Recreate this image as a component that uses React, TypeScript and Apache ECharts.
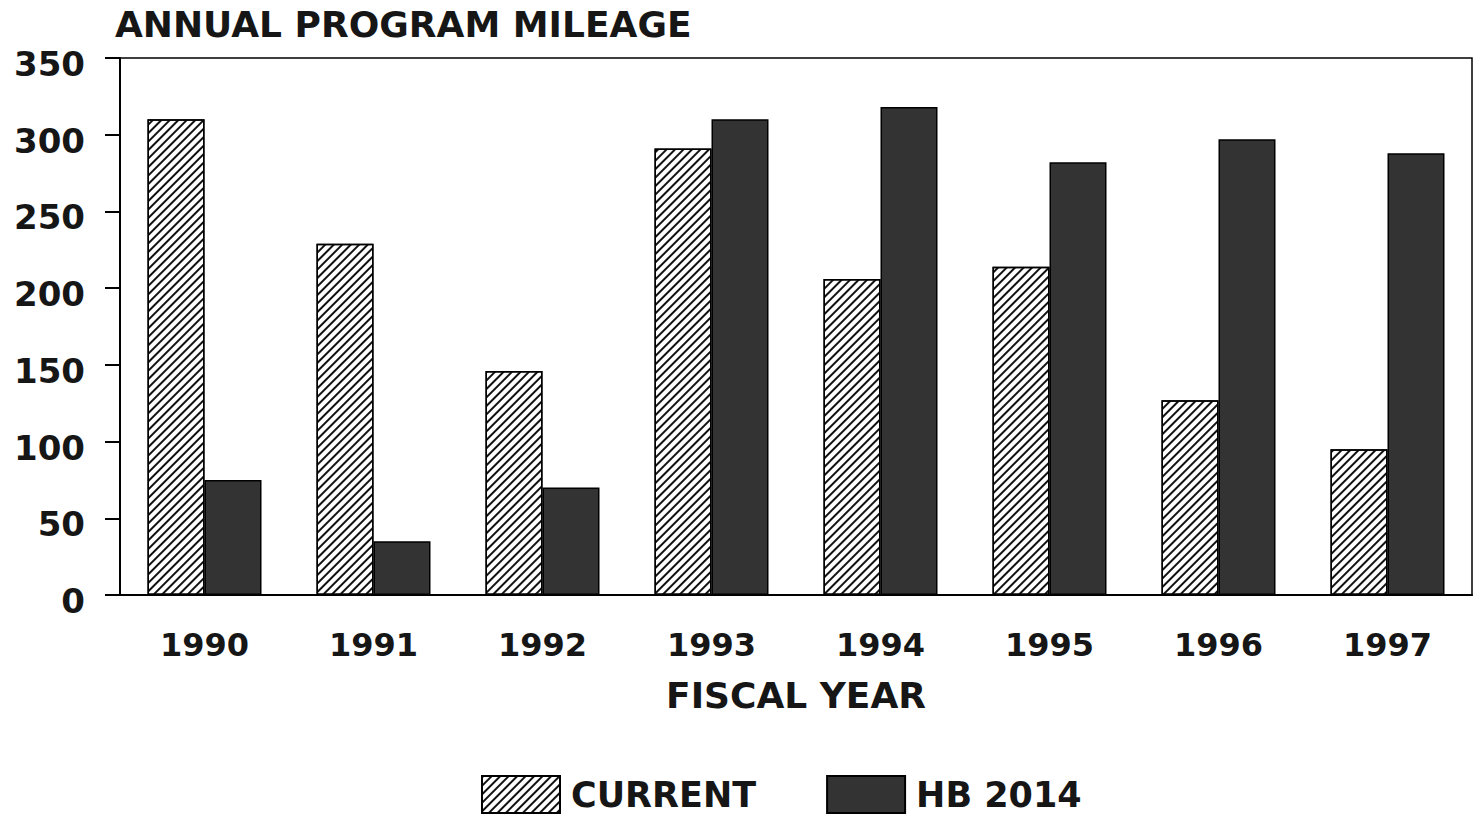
import React, { useEffect, useRef } from "react";
import * as echarts from "echarts";

const years = ["1990", "1991", "1992", "1993", "1994", "1995", "1996", "1997"];
const currentMiles = [310, 229, 146, 291, 206, 214, 127, 95];
const hb2014Miles = [75, 35, 70, 310, 318, 282, 297, 288];
const yTicks = { min: 0, max: 350, interval: 50 };

const FONT = "DejaVu Sans";
const INK = "#161616";

export default function App() {
  const ref = useRef<HTMLDivElement>(null);
  useEffect(() => {
    if (!ref.current) return;
    const chart = echarts.init(ref.current, null, { renderer: "svg" });
    chart.setOption({
      animation: false,
      backgroundColor: "#fff",
      title: {
        text: "ANNUAL PROGRAM MILEAGE",
        left: 110,
        top: 1,
        textStyle: { fontFamily: FONT, fontWeight: "bold", fontSize: 36, color: INK },
      },
      legend: {
        left: 476,
        top: 770,
        itemWidth: 78,
        itemHeight: 37,
        itemGap: 70,
        icon: "rect",
        textStyle: { fontFamily: FONT, fontWeight: "bold", fontSize: 35, color: INK, padding: [0, 0, 0, 6] },
        data: ["CURRENT", "HB 2014"],
      },
      grid: { left: 120, right: 2, top: 58, bottom: 222, show: true, borderColor: "#000", borderWidth: 1.5 },
      xAxis: {
        type: "category",
        data: years,
        axisLine: { lineStyle: { color: "#000", width: 2 } },
        axisTick: { alignWithLabel: true, length: 18, lineStyle: { color: "#000", width: 2 } },
        axisLabel: { fontFamily: FONT, fontWeight: "bold", fontSize: 32, color: INK, margin: 34 },
        name: "FISCAL YEAR",
        nameLocation: "middle",
        nameGap: 82,
        nameTextStyle: { fontFamily: FONT, fontWeight: "bold", fontSize: 36, color: INK },
      },
      yAxis: {
        type: "value",
        min: yTicks.min,
        max: yTicks.max,
        interval: yTicks.interval,
        splitLine: { show: false },
        axisLine: { show: true, lineStyle: { color: "#000", width: 2 } },
        axisTick: { show: true, length: 15, lineStyle: { color: "#000", width: 2 } },
        axisLabel: {
          margin: 35,
          formatter: "{v|{value}}",
          rich: {
            v: {
              fontFamily: FONT,
              fontWeight: "bold",
              fontSize: 34,
              color: INK,
              padding: [12, 0, 0, 0],
            },
          },
        },
      },
      series: [
        {
          name: "CURRENT",
          type: "bar",
          data: currentMiles,
          barWidth: 57,
          barGap: "0%",
          itemStyle: {
            color: "#fff",
            borderColor: "#000",
            borderWidth: 1.5,
            decal: {
              symbol: "rect",
              symbolSize: 1,
              color: "#111",
              backgroundColor: "#fff",
              dashArrayX: [1, 0],
              dashArrayY: [1.8, 3.2],
              rotation: -Math.PI / 4,
            },
          },
        },
        {
          name: "HB 2014",
          type: "bar",
          data: hb2014Miles,
          barWidth: 57,
          barGap: "0%",
          itemStyle: { color: "#333", borderColor: "#000", borderWidth: 1.5 },
        },
      ],
    });
    return () => chart.dispose();
  }, []);
  return (
    <div
      ref={ref}
      style={{ position: "absolute", left: 0, top: 0, width: 1474, height: 817 }}
    />
  );
}
